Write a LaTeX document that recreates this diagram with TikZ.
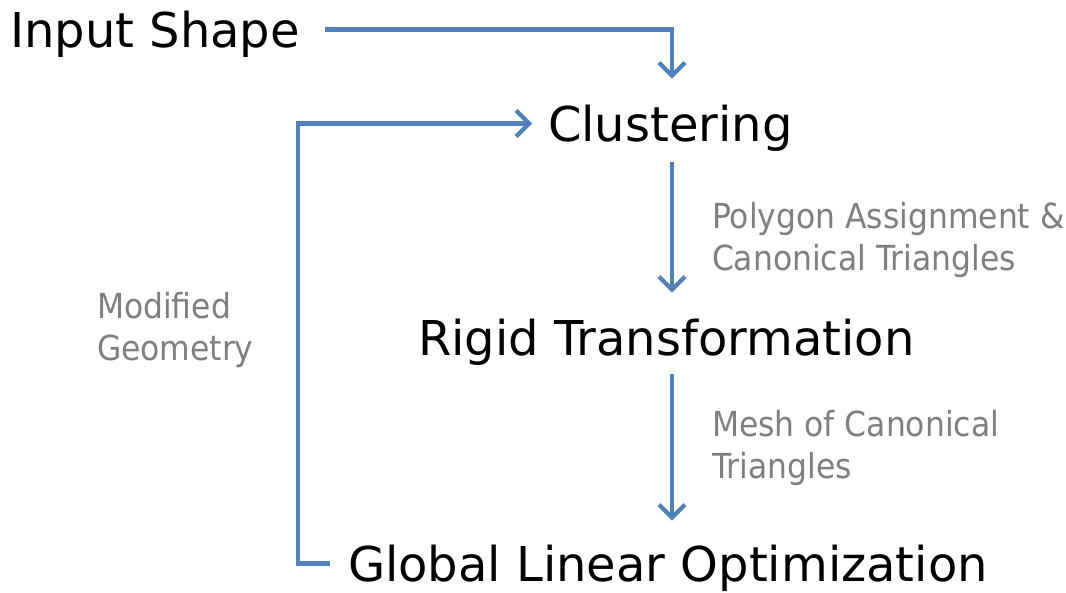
\documentclass[tikz,border=0pt]{standalone}
\usepackage{fontspec}
\setmainfont{DejaVu Sans}
\newfontfamily\notefont[FakeStretch=0.91]{DejaVu Sans}
\usetikzlibrary{arrows.meta,calc}
\definecolor{flow}{HTML}{4F81BD}
\definecolor{note}{HTML}{7F7F7F}
\begin{document}
\begin{tikzpicture}[x=1pt,y=-1pt,
  stage/.style={inner sep=0pt,outer sep=0pt,anchor=base west,font=\fontsize{48}{56}\selectfont},
  remark/.style={inner sep=0pt,outer sep=0pt,anchor=north west,align=left,text=note,font=\notefont\fontsize{34.5}{42.5}\selectfont},
  arr/.style={draw=flow,line width=4.2pt,-{Straight Barb[length=13pt,width=26pt]}}]
\useasboundingbox (0,0) rectangle (1066,592);
\coordinate (col) at (672,0);
\node[stage] (input) at (10,47) {Input Shape};
\node[stage] (clust) at (548,141) {Clustering};
\node[stage] (rigid) at (418,355) {Rigid Transformation};
\node[stage] (glob) at (348,581) {Global Linear Optimization};
\node[remark] (poly) at (712,202) {Polygon Assignment \&\\Canonical Triangles};
\node[remark] (mesh) at (712,410) {Mesh of Canonical\\Triangles};
\node[remark] (mod) at (97,292) {Modified\\Geometry};
\draw[arr] ([shift={(25pt,17.5pt)}]input.base east) -| ($(clust.north -| col)+(0,-26)$);
\draw[arr] ($(clust.south -| col)+(0,11)$) -- ($(rigid.north -| col)+(0,-26)$);
\draw[arr] ($(rigid.south -| col)+(0,9)$) -- ($(glob.north -| col)+(0,-24)$);
\draw[arr] ([shift={(-18pt,17.5pt)}]glob.base west) -| ([shift={(-250pt,17.5pt)}]clust.base west) -- ([shift={(-16pt,17.5pt)}]clust.base west);
\end{tikzpicture}
\end{document}
